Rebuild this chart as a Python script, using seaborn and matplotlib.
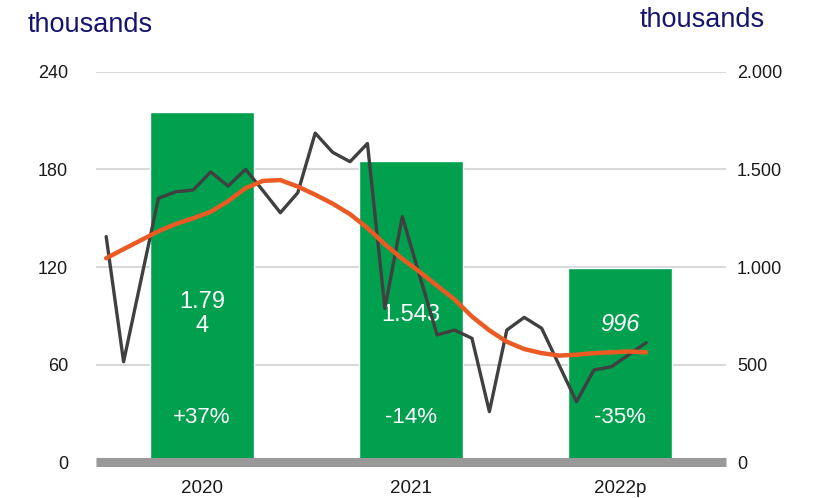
import numpy as np
import pandas as pd
import matplotlib
matplotlib.use("Agg")
import matplotlib.pyplot as plt
import seaborn as sns

# ---- data ----
years = ["2020", "2021", "2022p"]
annual = [1794, 1543, 996]
value_labels = ["1.79\n4", "1.543", "996"]
pct_labels = ["+37%", "-14%", "-35%"]

months = pd.date_range("2020-01-01", periods=32, freq="MS")
monthly = [138.7, 61.7, 112.0, 162.3, 166.3, 167.4, 178.5, 169.8, 180.1, 167.0, 153.4, 165.7,
           202.4, 190.6, 184.8, 196.0, 94.6, 151.0, 114.5, 78.2, 81.2, 76.1, 31.0, 81.2,
           89.0, 82.3, 59.7, 37.1, 56.6, 58.6, 66.0, 73.4]
trend = [125.4, 131.0, 136.5, 142.0, 146.5, 150.0, 154.0, 160.5, 168.5, 173.0, 173.5, 169.5,
         164.5, 159.0, 152.5, 144.0, 134.0, 125.0, 117.0, 108.5, 100.0, 89.5, 81.0, 74.0,
         69.5, 67.0, 65.5, 66.0, 67.0, 67.5, 68.0, 67.5]

left_ticks = [0, 60, 120, 180, 240]
right_ticks = [0, 500, 1000, 1500, 2000]
right_ticklabels = ["0", "500", "1.000", "1.500", "2.000"]

# ---- style ----
sns.set_theme(style="white")
plt.rcParams['font.family'] = ['Liberation Sans', 'DejaVu Sans']

GREEN = "#00A04F"
DARK = "#404040"
ORANGE = "#EC5A24"
NAVY = "#15156E"
TICKC = "#1a1a1a"

fig = plt.figure(figsize=(8.16, 4.98), dpi=100)
ax = fig.add_axes([96/816, 1-462/498, 630/816, 390/498])

df_bar = pd.DataFrame({"year": years, "value": annual})
sns.barplot(data=df_bar, x="year", y="value", ax=ax, color=GREEN,
            saturation=1, width=0.5, zorder=2)
ax.set_ylim(0, 2000)
ax.set_xlim(-0.507, 2.507)
ax.set_axisbelow(True)
ax.yaxis.grid(True, color="#d9d9d9", lw=1.5, zorder=0)
ax.set_xlabel("")
ax.set_ylabel("")
for s in ax.spines.values():
    s.set_visible(False)
ax.axhline(0, color="#999999", lw=6.5, zorder=3, clip_on=False, solid_capstyle="butt")

for i, (vl, pl) in enumerate(zip(value_labels, pct_labels)):
    ax.text(i, 760 if i == 0 else (755 if i == 1 else 705), vl, ha="center", va="center",
            color="white", fontsize=17, linespacing=1.15,
            style="italic" if i == 2 else "normal", zorder=4)
    ax.text(i, 226, pl, ha="center", va="center", color="white", fontsize=16, zorder=4)

# ---- monthly line on secondary axis ----
ax2 = ax.twinx()
xpos = [(m.year - 2020) + (m.month - 1 - 5.5) / 12 for m in months]
df_line = pd.DataFrame({"x": xpos, "monthly": monthly, "trend": trend})
sns.lineplot(data=df_line, x="x", y="monthly", ax=ax2, color=DARK, lw=2.4, zorder=5)
sns.lineplot(data=df_line, x="x", y="trend", ax=ax2, color=ORANGE, lw=3.2, zorder=6)
ax2.set_ylim(0, 240)
ax2.set_xlim(-0.507, 2.507)
ax2.set_xlabel("")
ax2.set_ylabel("")
for s in ax2.spines.values():
    s.set_visible(False)

# axis sides (after twinx, which resets them)
ax.yaxis.tick_right()
ax.set_yticks(right_ticks)
ax.set_yticklabels(right_ticklabels)
ax.tick_params(axis="y", length=0, pad=8, labelsize=13, labelcolor=TICKC)
ax.tick_params(axis="x", length=0, pad=13, labelsize=13.5, labelcolor=TICKC)

ax2.yaxis.tick_left()
ax2.set_yticks(left_ticks)
ax2.tick_params(axis="y", length=0, pad=20, labelsize=13, labelcolor=TICKC)
ax2.tick_params(axis="x", bottom=False, labelbottom=False)

fig.text(28/816, 1-25/498, "thousands", ha="left", va="center", color=NAVY, fontsize=19.5)
fig.text(640/816, 1-20/498, "thousands", ha="left", va="center", color=NAVY, fontsize=19.5)

fig.savefig("out.png", dpi=100)
